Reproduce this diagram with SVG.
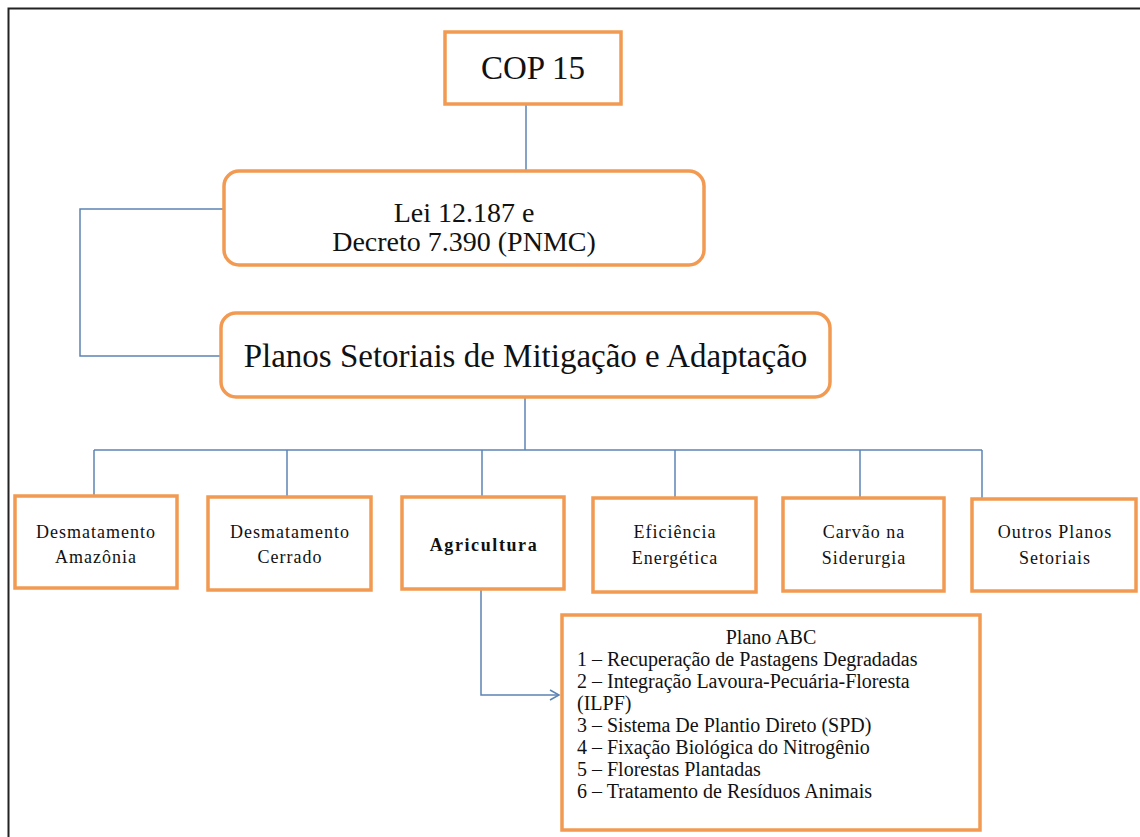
<svg xmlns="http://www.w3.org/2000/svg" width="1140" height="837" viewBox="0 0 1140 837">
  <defs>
    <style>
      .box { fill: #ffffff; stroke: #F29A52; stroke-width: 3.5; }
      .conn { fill: none; stroke: #5B84B4; stroke-width: 1.5; }
      text { font-family: 'Liberation Serif', Tinos, 'DejaVu Serif', serif; fill: #111; }
      .t { text-anchor: middle; }
      .big { font-size: 33px; }
      .mid { font-size: 28px; }
      .sm { font-size: 18px; letter-spacing: 1px; }
      .list { font-size: 20px; }
    </style>
    <marker id="arr" markerWidth="12" markerHeight="12" refX="10" refY="6" orient="auto" markerUnits="userSpaceOnUse">
      <path d="M1,1 L10,6 L1,11" fill="none" stroke="#5B84B4" stroke-width="1.5"/>
    </marker>
  </defs>
  <rect x="0" y="0" width="1140" height="837" fill="#ffffff"/>
  <rect x="8.5" y="8.5" width="1150" height="850" fill="none" stroke="#222" stroke-width="2"/>

  <g id="connectors">
    <line class="conn" x1="526" y1="104" x2="526" y2="171"/>
    <polyline class="conn" points="224,209 80,209 80,356 221,356"/>
    <line class="conn" x1="525" y1="397" x2="525" y2="450"/>
    <line class="conn" x1="94" y1="450" x2="982" y2="450"/>
    <line class="conn" x1="94" y1="450" x2="94" y2="496"/>
    <line class="conn" x1="287" y1="450" x2="287" y2="497"/>
    <line class="conn" x1="482" y1="450" x2="482" y2="497"/>
    <line class="conn" x1="675" y1="450" x2="675" y2="498"/>
    <line class="conn" x1="860" y1="450" x2="860" y2="498"/>
    <line class="conn" x1="982" y1="450" x2="982" y2="499"/>
    <polyline class="conn" points="481,589 481,695 559,695" marker-end="url(#arr)"/>
  </g>

  <g id="cop15" font-family="Liberation Serif, serif">
    <rect class="box" x="445" y="32" width="176" height="72"/>
    <text class="t big" x="533" y="79">COP 15</text>
  </g>

  <g id="lei">
    <rect class="box" x="224" y="171" width="480" height="94" rx="15"/>
    <text class="t mid" x="464" y="222">Lei 12.187 e</text>
    <text class="t mid" x="464" y="251">Decreto 7.390 (PNMC)</text>
  </g>

  <g id="planos">
    <rect class="box" x="221" y="313" width="609" height="84" rx="15"/>
    <text class="t big" x="525.5" y="367">Planos Setoriais de Mitigação e Adaptação</text>
  </g>

  <g id="desm-amazonia">
    <rect class="box" x="15" y="496" width="162" height="92"/>
    <text class="t sm" x="96" y="538">Desmatamento</text>
    <text class="t sm" x="96" y="563">Amazônia</text>
  </g>

  <g id="desm-cerrado">
    <rect class="box" x="208" y="497" width="163" height="93"/>
    <text class="t sm" x="290" y="538">Desmatamento</text>
    <text class="t sm" x="290" y="563">Cerrado</text>
  </g>

  <g id="agricultura">
    <rect class="box" x="402" y="497" width="162" height="92"/>
    <text class="t sm" x="484" y="551" font-weight="bold" style="letter-spacing:1.6px">Agricultura</text>
  </g>

  <g id="eficiencia">
    <rect class="box" x="593" y="498" width="163" height="94"/>
    <text class="t sm" x="675" y="538">Eficiência</text>
    <text class="t sm" x="675" y="564">Energética</text>
  </g>

  <g id="carvao">
    <rect class="box" x="783" y="498" width="161" height="93"/>
    <text class="t sm" x="864" y="538">Carvão na</text>
    <text class="t sm" x="864" y="564">Siderurgia</text>
  </g>

  <g id="outros">
    <rect class="box" x="972" y="499" width="164" height="92"/>
    <text class="t sm" x="1055" y="538">Outros Planos</text>
    <text class="t sm" x="1055" y="564">Setoriais</text>
  </g>

  <g id="plano-abc">
    <rect class="box" x="562" y="615" width="418" height="215"/>
    <text class="t" x="771" y="644" font-size="20">Plano ABC</text>
    <text class="list" x="577" y="666">1 – Recuperação de Pastagens Degradadas</text>
    <text class="list" x="577" y="688">2 – Integração Lavoura-Pecuária-Floresta</text>
    <text class="list" x="577" y="710">(ILPF)</text>
    <text class="list" x="577" y="732">3 – Sistema De Plantio Direto (SPD)</text>
    <text class="list" x="577" y="754">4 – Fixação Biológica do Nitrogênio</text>
    <text class="list" x="577" y="776">5 – Florestas Plantadas</text>
    <text class="list" x="577" y="798">6 – Tratamento de Resíduos Animais</text>
  </g>
</svg>
